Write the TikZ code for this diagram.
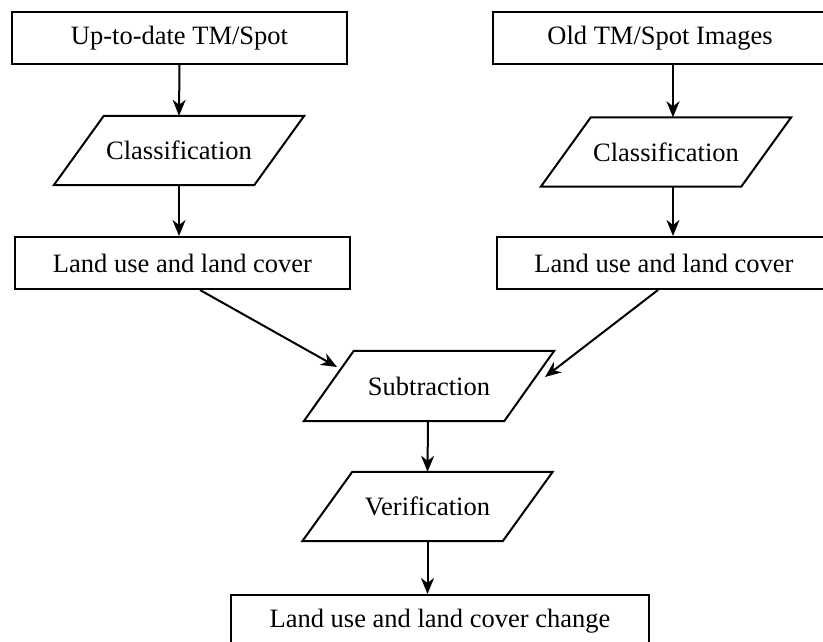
\documentclass[tikz,border=0pt]{standalone}
\usepackage{fontspec}
\setmainfont{Liberation Serif}
\usetikzlibrary{arrows.meta}
\newcommand\parashape[1]{\draw[pline] ([xshift=25pt]#1.north west) -- ([xshift=25pt]#1.north east) -- ([xshift=-25pt]#1.south east) -- ([xshift=-25pt]#1.south west) -- cycle;}
\begin{document}
\begin{tikzpicture}[x=1pt,y=-1pt,
  txt/.style={font=\fontsize{26.5}{30}\selectfont, inner sep=0pt},
  box/.style={txt, draw, line width=2pt, minimum width=335pt, minimum height=52pt},
  para/.style={txt, minimum width=200pt, minimum height=69pt},
  pline/.style={line width=2pt, line join=miter},
  arr/.style={line width=2pt, -{Stealth[length=16pt,width=13pt,inset=5pt]}}]
\path[use as bounding box, clip] (0,0) rectangle (823,642);

\node[box] (b1) at (179.5,38) {Up-to-date TM/Spot};
\node[box] (b2) at (660,38) {Old TM/Spot Images};
\node[para] (c1) at (179,150.5) {Classification};
\node[para] (c2) at (666,152) {Classification};
\node[box] (l1) at (182.5,263) {Land use and land cover};
\node[box] (l2) at (664,263) {Land use and land cover};
\node[para, minimum height=70pt] (s) at (429,386) {Subtraction};
\node[para] (v) at (427.5,506.5) {Verification};
\node[box, minimum width=418pt] (f) at (440,621) {Land use and land cover change};

\parashape{c1}
\parashape{c2}
\parashape{s}
\parashape{v}

\coordinate (sL) at (337,367);
\coordinate (sR) at (545,377);

\draw[arr] (b1.south) -- (c1.north);
\draw[arr] ([xshift=13pt]b2.south) -- ([xshift=7pt]c2.north);
\draw[arr] (c1.south) -- ([xshift=-3.5pt]l1.north);
\draw[arr] ([xshift=7pt]c2.south) -- ([xshift=9pt]l2.north);
\draw[arr] ([xshift=17.5pt]l1.south) -- (sL);
\draw[arr] ([xshift=-6pt]l2.south) -- (sR);
\draw[arr] ([xshift=-1pt]s.south) -- (v.north);
\draw[arr] (v.south) -- ([xshift=-12.5pt]f.north);
\end{tikzpicture}
\end{document}
